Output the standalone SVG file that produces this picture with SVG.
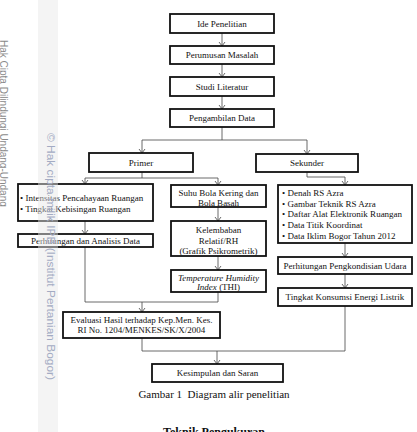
<svg xmlns="http://www.w3.org/2000/svg" width="417" height="432" viewBox="0 0 417 432">
<style>
.box{fill:#fff;stroke:#111;stroke-width:1.8}
.t{font-family:"Liberation Serif","Times New Roman",serif;font-size:9px;fill:#111}
.c{text-anchor:middle}
.con{fill:none;stroke:#444;stroke-width:0.8}
.wm1{font-family:"Liberation Sans",Arial,sans-serif;font-size:10px;fill:#8a8a8a}
.wm2{font-family:"Liberation Sans",Arial,sans-serif;font-size:10px;fill:#a3abc3}
</style>
<defs>
<marker id="arr" markerUnits="userSpaceOnUse" viewBox="-5 -4 6 8" refX="0" refY="0" markerWidth="6" markerHeight="8" orient="auto">
<path d="M-4,-3 L0,0 L-4,3" fill="none" stroke="#444" stroke-width="0.8"/>
</marker>
</defs>
<rect width="417" height="432" fill="#fff"/>

<g id="connectors" class="con">
<path d="M222,33 V46" marker-end="url(#arr)"/>
<path d="M222,64 V77" marker-end="url(#arr)"/>
<path d="M222,96 V109" marker-end="url(#arr)"/>
<path d="M222,127 V140 M142,140 H307"/>
<path d="M142,140 V153" marker-end="url(#arr)"/>
<path d="M307,140 V154" marker-end="url(#arr)"/>
<path d="M142,172 V178 M85,178 H218"/>
<path d="M85,178 V184" marker-end="url(#arr)"/>
<path d="M218,178 V185" marker-end="url(#arr)"/>
<path d="M85,221 V234" marker-end="url(#arr)"/>
<path d="M218,207 V221" marker-end="url(#arr)"/>
<path d="M218,256 V270" marker-end="url(#arr)"/>
<path d="M85,247 V302 H218 V292"/>
<path d="M142,302 V312" marker-end="url(#arr)"/>
<path d="M307,172 V177 H345"/>
<path d="M345,177 V185" marker-end="url(#arr)"/>
<path d="M345,243 V257" marker-end="url(#arr)"/>
<path d="M345,274 V288" marker-end="url(#arr)"/>
<path d="M142,338 V351 H345 V306"/>
<path d="M217,351 V364" marker-end="url(#arr)"/>
</g>

<g id="ide"><rect class="box" x="170" y="14" width="104" height="19"/><text class="t c" x="222" y="26.5">Ide Penelitian</text></g>
<g id="perumusan"><rect class="box" x="170" y="46" width="104" height="18"/><text class="t c" x="222" y="58">Perumusan Masalah</text></g>
<g id="studi"><rect class="box" x="170" y="77" width="104" height="19"/><text class="t c" x="222" y="89.5">Studi Literatur</text></g>
<g id="pengambilan"><rect class="box" x="170" y="109" width="104" height="18"/><text class="t c" x="222" y="121">Pengambilan Data</text></g>
<g id="primer"><rect class="box" x="89" y="153" width="104" height="19"/><text class="t c" x="141" y="166">Primer</text></g>
<g id="sekunder"><rect class="box" x="256" y="154" width="102" height="18"/><text class="t c" x="307" y="166">Sekunder</text></g>
<g id="intensitas"><rect class="box" x="18" y="184" width="135" height="37"/>
<text class="t" x="20" y="201">• Intensitas Pencahayaan Ruangan</text>
<text class="t" x="20" y="212">• Tingkat Kebisingan Ruangan</text></g>
<g id="perhitungan-analisis"><rect class="box" x="18" y="234" width="135" height="13"/><text class="t c" x="85.5" y="244">Perhitungan dan Analisis Data</text></g>
<g id="suhu"><rect class="box" x="171" y="185" width="95" height="22"/>
<text class="t c" x="218.5" y="196">Suhu Bola Kering dan</text>
<text class="t c" x="218.5" y="205.5">Bola Basah</text></g>
<g id="kelembaban"><rect class="box" x="171" y="221" width="95" height="35"/>
<text class="t c" x="218.5" y="233">Kelembaban</text>
<text class="t c" x="218.5" y="243.5">Relatif/RH</text>
<text class="t c" x="218.5" y="254">(Grafik Psikrometrik)</text></g>
<g id="thi"><rect class="box" x="171" y="270" width="95" height="22"/>
<text class="t c" x="218.5" y="280.5" font-style="italic">Temperature Humidity</text>
<text class="t c" x="218.5" y="290"><tspan font-style="italic">Index</tspan> (THI)</text></g>
<g id="sekunder-data"><rect class="box" x="278" y="185" width="134" height="58"/>
<text class="t" x="282" y="196">• Denah RS Azra</text>
<text class="t" x="282" y="206.7">• Gambar Teknik RS Azra</text>
<text class="t" x="282" y="217.4">• Daftar Alat Elektronik Ruangan</text>
<text class="t" x="282" y="228.1">• Data Titik Koordinat</text>
<text class="t" x="282" y="238.8">• Data Iklim Bogor Tahun 2012</text></g>
<g id="pengkondisian"><rect class="box" x="278" y="257" width="134" height="17"/><text class="t c" x="345" y="268.5">Perhitungan Pengkondisian Udara</text></g>
<g id="konsumsi"><rect class="box" x="278" y="288" width="134" height="18"/><text class="t c" x="345" y="300">Tingkat Konsumsi Energi Listrik</text></g>
<g id="evaluasi"><rect class="box" x="63" y="312" width="157" height="26"/>
<text class="t c" x="141.5" y="322.5">Evaluasi Hasil terhadap Kep.Men. Kes.</text>
<text class="t c" x="141.5" y="333">RI No. 1204/MENKES/SK/X/2004</text></g>
<g id="kesimpulan"><rect class="box" x="152" y="364" width="131" height="18"/><text class="t c" x="217.5" y="376">Kesimpulan dan Saran</text></g>

<text class="t c" x="214" y="397.5" style="font-size:11px" xml:space="preserve">Gambar 1  Diagram alir penelitian</text>
<text class="t c" x="214" y="436" style="font-size:12px;font-weight:bold">Teknik Pengukuran</text>

<rect x="38" y="0" width="20" height="432" fill="#e6e6e6" opacity="0.45"/>
<text class="wm1" transform="translate(0,40) rotate(90)">Hak Cipta Dilindungi Undang-Undang</text>
<text class="wm2" transform="translate(47,133) rotate(90)" textLength="247" lengthAdjust="spacingAndGlyphs">© Hak cipta milik IPB (Institut Pertanian Bogor)</text>
</svg>
